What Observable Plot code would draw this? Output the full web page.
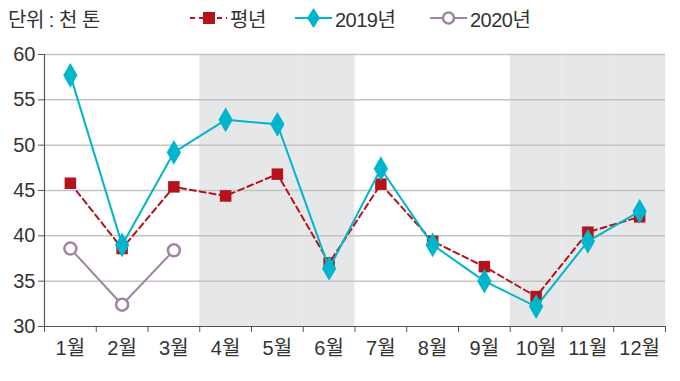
<!DOCTYPE html>
<html><head><meta charset="utf-8">
<script src="https://cdn.jsdelivr.net/npm/d3@7"></script>
<script src="https://cdn.jsdelivr.net/npm/@observablehq/plot@0.6"></script>
<style>
body{margin:0;background:#fff;font-family:"Liberation Sans",Arial,"Noto Sans CJK KR",sans-serif;color:#333;}
#head{position:relative;width:680px;height:36px;}
#title{position:absolute;left:8px;top:4px;font-size:20px;letter-spacing:-0.5px;}
.lg{position:absolute;top:4px;display:flex;align-items:center;font-size:20px;letter-spacing:-0.5px;height:28px;}
.lg svg{margin-right:3px;}
</style></head>
<body>
<div id="head"><div id="title">단위 : 천 톤</div></div>
<div id="chart"></div>
<script>
const months = [1,2,3,4,5,6,7,8,9,10,11,12];
const monthLabels = ["1월","2월","3월","4월","5월","6월","7월","8월","9월","10월","11월","12월"];
const normal = [45.8,38.6,45.4,44.4,46.8,37.0,45.7,39.4,36.6,33.3,40.4,42.1];
const y2019 = [57.7,39.0,49.2,52.8,52.3,36.4,47.4,39.0,35.0,32.2,39.4,42.7];
const y2020 = [38.6,32.4,38.4];
const shadedMonths = [4,5,6,10,11,12];
const yTicks = [30,35,40,45,50,55,60];
const seriesNames = ["평년","2019년","2020년"];
const colors = {"평년":"#b5121b","2019년":"#00b5cc","2020년":"#a084a8"};

const dNormal = months.map((m,i)=>({m, v:normal[i]}));
const d2019 = months.map((m,i)=>({m, v:y2019[i]}));
const d2020 = y2020.map((v,i)=>({m:months[i], v}));
const bounds = [0.5, ...months.map(m=>m+0.5)];

const font = '"Liberation Sans",Arial,"Noto Sans CJK KR",sans-serif';
const chart = Plot.plot({
  width:680, height:345,
  marginLeft:44, marginRight:15, marginTop:18, marginBottom:55,
  style:{fontFamily:font, fontSize:"20px", color:"#333", background:"#fff"},
  x:{domain:[0.5,12.5]},
  y:{domain:[30,60]},
  marks:[
    Plot.rectY(shadedMonths,{x1:d=>d-0.5,x2:d=>d+0.5,y1:30,y2:60,fill:"#e6e7e9",inset:0}),
    Plot.ruleY(yTicks.slice(1),{stroke:"#c4c4c6",strokeWidth:1.5}),
    Plot.ruleY([30],{stroke:"#555",strokeWidth:1.2}),
    Plot.ruleX([0.5],{y1:30,y2:60,stroke:"#555",strokeWidth:1.2}),
    Plot.axisY({ticks:yTicks,tickSize:6,tickPadding:3,label:null,fontSize:20,stroke:"#555",letterSpacing:"-1px"}),
    Plot.axisX({ticks:bounds,tickSize:6,tickFormat:()=>"",label:null,stroke:"#555"}),
    Plot.axisX({ticks:months,tickSize:0,tickPadding:14,tickFormat:d=>monthLabels[d-1],label:null,fontSize:20,letterSpacing:"-1px"}),
    Plot.line(d2020,{x:"m",y:"v",stroke:colors["2020년"],strokeWidth:2}),
    Plot.dot(d2020,{x:"m",y:"v",r:6,stroke:colors["2020년"],strokeWidth:2.5,fill:"#fff"}),
    Plot.line(dNormal,{x:"m",y:"v",stroke:colors["평년"],strokeWidth:2,strokeDasharray:"6,4"}),
    Plot.dot(dNormal,{x:"m",y:"v",symbol:"square",r:6.5,fill:colors["평년"]}),
    Plot.line(d2019,{x:"m",y:"v",stroke:colors["2019년"],strokeWidth:2}),
    Plot.dot(d2019,{x:"m",y:"v",symbol:"diamond",r:7.5,fill:colors["2019년"]})
  ]
});
document.getElementById("chart").appendChild(chart);

// legend
const head = document.getElementById("head");
const lefts = [190, 295, 430];
seriesNames.forEach((name,i)=>{
  const div = document.createElement("div");
  div.className = "lg";
  div.style.left = lefts[i]+"px";
  const c = colors[name];
  let sym;
  if(i===0) sym = `<line x1="0" y1="14" x2="37" y2="14" stroke="${c}" stroke-width="2" stroke-dasharray="5,4"/><rect x="13" y="8" width="12" height="12" fill="${c}"/>`;
  else if(i===1) sym = `<line x1="0" y1="14" x2="37" y2="14" stroke="${c}" stroke-width="2"/><path d="M18.5,4 L25,14 L18.5,24 L12,14Z" fill="${c}"/>`;
  else sym = `<line x1="0" y1="14" x2="37" y2="14" stroke="${c}" stroke-width="2"/><circle cx="18.5" cy="14" r="5.5" fill="#fff" stroke="${c}" stroke-width="2.5"/>`;
  div.innerHTML = `<svg width="37" height="28">${sym}</svg><span>${name}</span>`;
  head.appendChild(div);
});
</script>
</body></html>
